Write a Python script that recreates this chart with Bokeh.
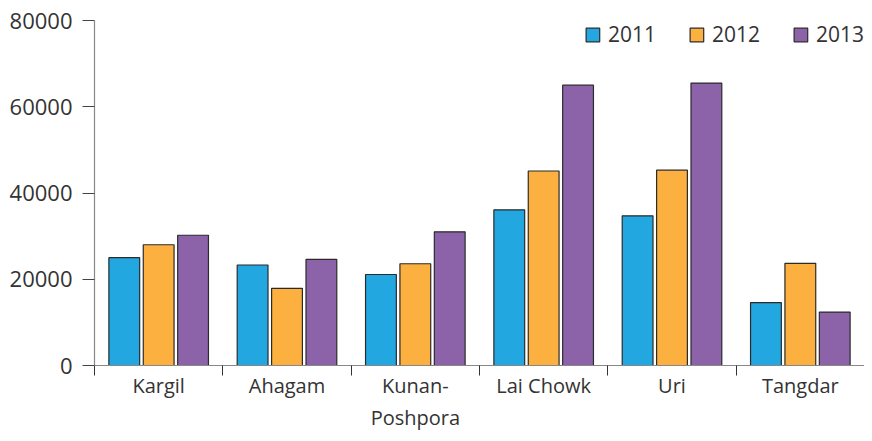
import numpy as np
from bokeh.plotting import figure
from bokeh.models import Range1d, FixedTicker, Legend, LegendItem
from bokeh.embed import file_html
from bokeh.resources import INLINE

categories = ["Kargil", "Ahagam", "Kunan-\nPoshpora", "Lai Chowk", "Uri", "Tangdar"]
years = ["2011", "2012", "2013"]
v2011 = [25000, 23300, 21100, 36100, 34700, 14600]
v2012 = [28000, 17900, 23600, 45100, 45300, 23700]
v2013 = [30200, 24600, 31000, 65000, 65500, 12400]
colors = ["#22A7E0", "#FBB03F", "#8C62A8"]
y_ticks = [0, 20000, 40000, 60000, 80000]

FONT = "Open Sans"
TXT = "#333333"

p = figure(width=864, height=433, output_backend="svg", toolbar_location=None,
           x_range=Range1d(0, len(categories)), y_range=Range1d(0, 80000),
           min_border_left=94, min_border_right=0, min_border_top=20, min_border_bottom=40)
p.outline_line_color = None
p.xgrid.visible = False
p.ygrid.visible = False
p.background_fill_color = "white"
p.border_fill_color = "white"

centers = np.arange(len(categories)) + 0.5
offsets = [-0.268, 0.0, 0.268]
items = []
for vals, yr, col, off in zip([v2011, v2012, v2013], years, colors, offsets):
    r = p.vbar(x=centers + off, top=vals, width=0.24, fill_color=col,
               line_color="#2b2b2b", line_width=1.2)
    items.append(LegendItem(label=yr, renderers=[r]))

legend = Legend(items=items, orientation="horizontal", location="top_right",
                glyph_width=17, glyph_height=17, label_text_font=FONT,
                label_text_font_size="21px", label_text_color=TXT,
                spacing=32, margin=0, padding=0, label_standoff=7,
                background_fill_alpha=0, border_line_color=None,
                label_height=17)
p.add_layout(legend)

xa = p.xaxis[0]
xa.ticker = FixedTicker(ticks=list(centers), minor_ticks=list(range(len(categories) + 1)))
xa.major_label_overrides = {float(c): lab for c, lab in zip(centers, categories)}
xa.major_tick_line_color = None
xa.major_tick_out = 0
xa.major_tick_in = 0
xa.minor_tick_out = 10
xa.minor_tick_in = 0
xa.minor_tick_line_color = "#333333"
xa.axis_line_color = "#888888"
xa.axis_line_width = 1.2
xa.major_label_text_font = FONT
xa.major_label_text_font_size = "20px"
xa.major_label_text_color = TXT
xa.major_label_standoff = -4

ya = p.yaxis[0]
ya.ticker = FixedTicker(ticks=y_ticks)
ya.minor_tick_line_color = None
ya.major_tick_out = 12
ya.major_tick_in = 0
ya.major_tick_line_color = "#444444"
ya.axis_line_color = "#888888"
ya.axis_line_width = 1.2
ya.major_label_text_font = FONT
ya.major_label_text_font_size = "22px"
ya.major_label_text_color = TXT
ya.major_label_standoff = 10

open("out.html", "w").write(file_html(p, INLINE))
